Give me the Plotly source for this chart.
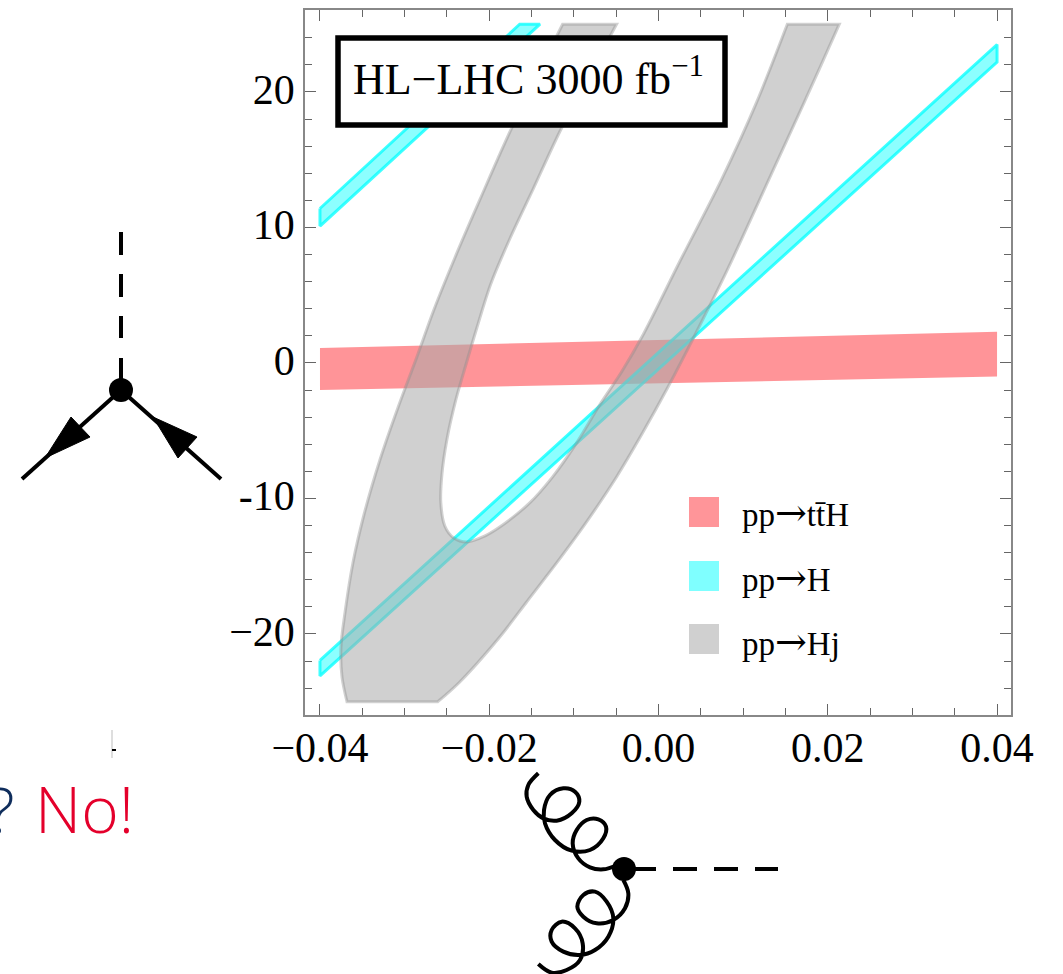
import plotly.graph_objects as go

W, H = 1063, 974
L, R, T, B = 305, 1011, 10, 715

# ---------- chart data ----------
x_major = [-0.04, -0.02, 0.0, 0.02, 0.04]
x_labels = ["−0.04", "−0.02", "0.00", "0.02", "0.04"]
x_minor = [-0.035, -0.03, -0.025, -0.015, -0.01, -0.005, 0.005, 0.01, 0.015, 0.025, 0.03, 0.035]
y_major = [-20, -10, 0, 10, 20]
y_labels = ["−20", "-10", "0", "10", "20"]
y_minor = [-24, -22, -18, -16, -14, -12, -8, -6, -4, -2, 2, 4, 6, 8, 12, 14, 16, 18, 22, 24]

tth_x = [-0.04, 0.04, 0.04, -0.04, -0.04]
tth_y = [1.1, 2.3, -1.0, -2.0, 1.1]

h_low_x = [-0.04, 0.04, 0.04, -0.04, -0.04]
h_low_y = [-21.95, 23.5, 22.2, -23.1, -21.95]
h_up_x = [-0.04, -0.0164, -0.0140, -0.04, -0.04]
h_up_y = [11.4, 25, 25, 10.1, 11.4]

hj_x = [-0.03681, -0.03681, -0.03740, -0.03752, -0.03705, -0.03611, -0.03481, -0.03292, -0.03080, -0.02855,
        -0.02655, -0.02407, -0.02112, -0.01735, -0.01133, -0.01133,
        -0.00496, -0.00496, -0.01145, -0.01475, -0.01758, -0.01982, -0.02147, -0.02277, -0.02395, -0.02501,
        -0.02560, -0.02572, -0.02525, -0.02419, -0.02265, -0.02077, -0.01876, -0.01522, -0.01251, -0.00968,
        -0.00696, -0.00437, -0.00177, 0.00248, 0.00743, 0.01156, 0.01522, 0.01522,
        0.02136, 0.02136, 0.01735, 0.01345, 0.00802, 0.00401, 0.00106, -0.00189, -0.00496, -0.00850,
        -0.01204, -0.01558, -0.01876, -0.02348, -0.02608, -0.02608, -0.03681, -0.03681]
hj_y = [-25, -25, -23.17, -20.96, -18.45, -14.76, -11.22, -7.16, -3.32, 0.44,
        3.91, 7.75, 12.03, 17.34, 25, 25,
        25, 25, 17.34, 12.92, 9.15, 5.83, 2.58, -0.15, -2.73, -5.68,
        -8.27, -10.33, -12.03, -12.92, -13.21, -12.84, -12.10, -10.33, -8.41, -5.90,
        -3.10, -0.66, 2.14, 7.45, 13.51, 19.19, 25, 25,
        25, 25, 19.41, 14.10, 6.72, 1.70, -1.85, -5.17, -8.41, -11.73,
        -14.76, -17.64, -20.22, -23.54, -25, -25, -25, -25]

legend_labels = ["pp→tt̄H", "pp→H", "pp→Hj"]
legend_fill = ["#ff9599", "#7fffff", "#d0d0d0"]
box_text = "HL−LHC 3000 fb<sup>−1</sup>"

# ---------- Feynman sketches, traced in page pixels ----------
g1_top = [(115,40),(85,75),(80,110),(100,150),(130,175),(170,182),(215,160),(238,125),(225,95),(190,85),
          (150,105),(132,150),(135,190),(165,240),(215,272),(270,270),(310,235),(318,200),(295,178),(260,180),
          (230,210),(218,250),(235,295),(270,322),(310,328),(345,318)]
g1_bot = [(370,360),(385,400),(375,445),(340,480),(290,490),(250,470),(232,440),(250,405),(285,395),(320,425),
          (340,475),(325,530),(285,570),(240,585),(190,575),(155,545),(155,510),(185,485),(225,505),(248,550),
          (240,600),(200,630),(155,638),(115,612)]
gz = lambda pts: ([500 + a / 3 for a, _ in pts], [760 + b / 3 for _, b in pts])

SERIF = "Liberation Serif"
fig = go.Figure()

def band(x, y, fill, line, lw, name, shape="linear"):
    fig.add_trace(go.Scatter(x=x, y=y, mode="lines", fill="toself", fillcolor=fill,
                             line=dict(color=line, width=lw, shape=shape, smoothing=0.9), name=name,
                             showlegend=False, hoverinfo="skip"))

band(tth_x, tth_y, "rgba(255,0,10,0.42)", "rgba(255,0,10,0)", 0, legend_labels[0])
band(h_low_x, h_low_y, "rgba(0,255,255,0.45)", "rgba(0,255,255,0.75)", 3, legend_labels[1])
band(h_up_x, h_up_y, "rgba(0,255,255,0.45)", "rgba(0,255,255,0.75)", 3, legend_labels[1])
band(hj_x, hj_y, "rgba(170,170,170,0.55)", "rgba(140,140,140,0.4)", 3, legend_labels[2], shape="spline")

def sketch(x, y, width=4, dash=None, shape="linear"):
    fig.add_trace(go.Scatter(x=x, y=y, xaxis="x2", yaxis="y2", mode="lines",
                             line=dict(color="black", width=width, dash=dash, shape=shape),
                             showlegend=False, hoverinfo="skip"))

def solid(x, y):
    fig.add_trace(go.Scatter(x=x, y=y, xaxis="x2", yaxis="y2", mode="lines", fill="toself",
                             fillcolor="black", line=dict(color="black", width=1),
                             showlegend=False, hoverinfo="skip"))

def dot(x, y):
    fig.add_trace(go.Scatter(x=[x], y=[y], xaxis="x2", yaxis="y2", mode="markers",
                             marker=dict(color="black", size=24), showlegend=False, hoverinfo="skip"))

for a, b in [(232, 255), (274, 297), (316, 338), (358, 390)]:
    sketch([121, 121], [a, b])
sketch([121, 22], [390, 479])
sketch([121, 221], [390, 479])
solid([45, 71, 90, 45], [458, 417, 437, 458])
solid([153, 197, 178, 153], [417, 437, 458, 417])
dot(121, 390)

sketch(*gz(g1_top), shape="spline")
sketch(*gz(g1_bot), shape="spline")
for a, b in [(624, 656), (673, 697), (714, 738), (755, 778)]:
    sketch([a, b], [869, 869])
dot(624, 869)

fig.add_trace(go.Scatter(x=[112, 112], y=[730, 758], xaxis="x2", yaxis="y2", mode="lines",
                         line=dict(color="#bdbdbd", width=1), showlegend=False, hoverinfo="skip"))
sketch([112, 116], [750, 750], width=2)

px = lambda v: v / W
py = lambda v: 1 - v / H

shapes = [dict(type="rect", xref="paper", yref="paper", x0=px(338), x1=px(725), y0=py(38), y1=py(125),
               line=dict(color="black", width=5.5), fillcolor="white", layer="above")]
sw_y = [(497, 527), (561, 591), (624, 654)]
for c, (a, b) in zip(legend_fill, sw_y):
    shapes.append(dict(type="rect", xref="paper", yref="paper", x0=px(689), x1=px(719), y0=py(a), y1=py(b),
                       line=dict(width=0), fillcolor=c, layer="above"))

ann = [dict(text=box_text, xref="paper", yref="paper", x=px(351), y=py(76), xanchor="left", yanchor="middle",
            showarrow=False, font=dict(family=SERIF, size=44, color="black"))]
ARROW = "<span style=\"font-family:'DejaVu Serif';font-size:38px\">→</span>"
for t, yy in zip(legend_labels, [513, 578, 642]):
    ann.append(dict(text=t.replace("→", ARROW), xref="paper", yref="paper", x=px(740), y=py(yy),
                    xanchor="left", yanchor="middle", showarrow=False,
                    font=dict(family=SERIF, size=33, color="black")))
ann.append(dict(text="?", xref="paper", yref="paper", x=px(17), y=py(808), xanchor="right", yanchor="middle",
                showarrow=False, font=dict(family="Open Sans", size=63, color="#0f2d5c", weight=300)))
ann.append(dict(text="No!", xref="paper", yref="paper", x=px(33), y=py(808), xanchor="left", yanchor="middle",
                showarrow=False, font=dict(family="Open Sans", size=64, color="#e4002b", weight=300)))

tick_font = dict(family=SERIF, size=42, color="black")
minor_style = dict(ticks="inside", ticklen=7, tickwidth=1, tickcolor="#666666")
fig.update_layout(
    width=W, height=H, autosize=False, margin=dict(l=0, r=0, t=0, b=0, autoexpand=False),
    paper_bgcolor="white", plot_bgcolor="rgba(0,0,0,0)", showlegend=False,
    xaxis=dict(domain=[L / W, R / W], range=[-0.04177, 0.04165], tickmode="array", tickvals=x_major,
               ticktext=x_labels, ticks="inside", ticklen=11, tickwidth=1, tickcolor="#666666",
               minor=dict(tickmode="array", tickvals=x_minor, **minor_style),
               tickfont=tick_font, showgrid=False, zeroline=False, mirror="ticks", showline=True,
               linecolor="#888888", linewidth=1.5, anchor="y", automargin=False, ticklabelstandoff=-5),
    yaxis=dict(domain=[1 - B / H, 1 - T / H], range=[-25.98, 26.05], tickmode="array", tickvals=y_major,
               ticktext=y_labels, ticks="inside", ticklen=11, tickwidth=1, tickcolor="#666666",
               minor=dict(tickmode="array", tickvals=y_minor, **minor_style),
               tickfont=tick_font, showgrid=False, zeroline=False, mirror="ticks", showline=True,
               linecolor="#888888", linewidth=1.5, anchor="x", automargin=False, ticklabelshift=-3),
    xaxis2=dict(domain=[0, 1], range=[0, W], visible=False, anchor="y2"),
    yaxis2=dict(domain=[0, 1], range=[H, 0], visible=False, anchor="x2"),
    shapes=shapes, annotations=ann,
)
fig.write_html("out.html", post_script="document.body.style.margin='0';", config=dict(displayModeBar=False))
